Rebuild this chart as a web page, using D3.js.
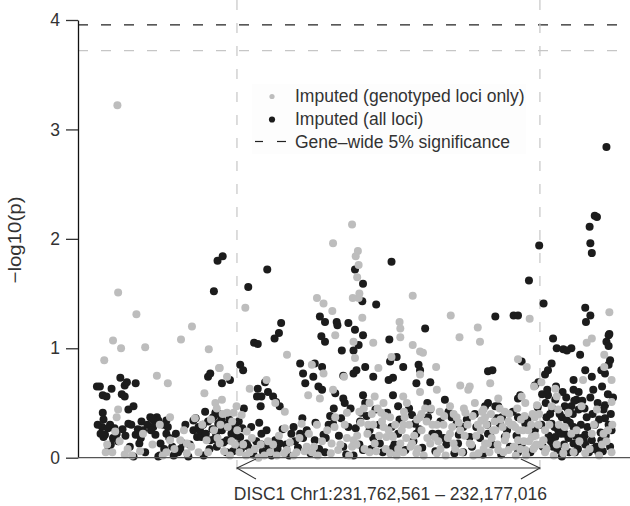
<!DOCTYPE html>
<html>
<head>
<meta charset="utf-8">
<script src="https://cdn.jsdelivr.net/npm/d3@7"></script>
<style>
  html, body { margin: 0; padding: 0; background: #fff; }
  svg { display: block; font-family: "Liberation Sans", Arial, sans-serif; }
</style>
</head>
<body>
<svg id="chart" width="630" height="506"></svg>
<script>
// ---- DATA ----
// positions are kb offsets from chr1:231,500,000; values are -log10(p)
const xDomainKb = [45.1, 797.5];
const yTicks = [0, 1, 2, 3, 4];
const geneStartKb = 262.561;   // 231,762,561
const geneEndKb = 677.016;     // 232,177,016
const geneLabel = "DISC1 Chr1:231,762,561 \u2013 232,177,016";
const sigThresholdAll = 3.955;
const sigThresholdGenotyped = 3.72;
const legendLabels = ["Imputed (genotyped loci only)", "Imputed (all loci)", "Gene\u2013wide 5% significance"];
const yLabel = "\u2212log10(p)";

// Imputed (all loci) — black
const imputedAll = [
  [768,2.84],[231,1.52],[236,1.80],[243,1.84],[278,1.56],[304,1.72],[424,1.72],[435,1.59],[434,1.43],[453,1.40],
  [474,1.79],[376,1.29],[383,1.24],[378,1.11],[383,1.06],[399,1.24],[400,1.21],[415,1.23],[520,1.18],[616,1.29],
  [641,1.30],[647,1.30],[662,1.62],[676,1.94],[682,1.41],[695,1.09],[745,2.11],[746,1.96],[748,1.87],[755,2.20],
  [752,2.21],[739,1.37],[746,1.30],[740,1.24],[772,1.13],[323,1.23],[320,1.14],[314,1.09],[286,1.05],[291,1.04],
  [349,0.86],[353,0.77],[356,0.68],[369,0.86],[379,0.83],[367,0.74],[374,0.65],[379,0.62],[406,0.98],[408,0.75],
  [267,0.85],[271,0.80],[242,0.68],[253,0.71],[291,0.63],[290,0.56],[296,0.56],[301,0.69],[305,0.60],[312,0.56],
  [295,0.47],[316,0.51],[321,0.47],[397,0.59],[408,0.54],[410,0.50],[233,0.41],[237,0.31],[242,0.25],[251,0.28],
  [258,0.25],[249,0.16],[267,0.19],[276,0.13],[264,0.12],[235,0.10],[296,0.22],[296,0.12],[315,0.16],[321,0.13],
  [337,0.22],[349,0.22],[353,0.18],[342,0.15],[369,0.16],[381,0.21],[388,0.30],[394,0.31],[415,0.28],[408,0.10],
  [383,0.05],[424,1.17],[435,1.12],[422,0.98],[429,1.03],[471,1.08],[481,0.92],[472,0.88],[490,0.83],[438,0.83],
  [422,0.77],[426,0.80],[449,0.74],[476,0.73],[470,0.71],[511,0.85],[513,0.80],[508,0.68],[527,0.69],[547,0.53],
  [606,0.79],[435,0.57],[438,0.50],[433,0.41],[431,0.33],[476,0.57],[483,0.47],[527,0.44],[524,0.37],[502,0.39],
  [556,0.37],[563,0.31],[572,0.28],[602,0.47],[444,0.25],[449,0.18],[458,0.13],[474,0.28],[483,0.22],[506,0.31],
  [508,0.22],[538,0.22],[545,0.18],[435,0.07],[422,0.02],[476,0.09],[565,0.13],[572,0.05],[590,0.28],[581,0.19],
  [609,0.22],[700,1.00],[709,0.99],[720,1.00],[714,0.98],[732,0.94],[771,1.12],[768,1.06],[771,1.02],[773,0.89],
  [771,0.85],[766,0.77],[761,0.80],[693,0.86],[688,0.80],[684,0.76],[675,0.69],[670,0.66],[652,0.88],[612,0.80],
  [739,0.80],[748,0.74],[723,0.71],[750,0.62],[723,0.62],[727,0.53],[688,0.57],[698,0.53],[650,0.57],[647,0.54],
  [606,0.50],[616,0.47],[620,0.47],[711,0.47],[720,0.47],[730,0.44],[766,0.48],[764,0.44],[707,0.37],[714,0.34],
  [741,0.37],[625,0.37],[622,0.31],[647,0.37],[657,0.31],[766,0.36],[771,0.30],[686,0.37],[693,0.31],[702,0.25],
  [711,0.22],[723,0.28],[606,0.22],[629,0.19],[739,0.21],[748,0.16],[761,0.16],[757,0.05],[698,0.19],[695,0.10],
  [723,0.13],[725,0.05],[707,0.01],[670,0.25],[647,0.05],[739,0.12],[71,0.65],[75,0.65],[91,0.63],[79,0.57],
  [84,0.56],[103,0.73],[109,0.66],[112,0.69],[124,0.68],[105,0.58],[109,0.56],[79,0.41],[114,0.44],[121,0.47],
  [78,0.28],[89,0.30],[82,0.21],[93,0.18],[98,0.22],[114,0.31],[132,0.33],[134,0.25],[124,0.21],[129,0.13],
  [144,0.37],[153,0.37],[149,0.34],[148,0.28],[166,0.22],[170,0.18],[166,0.34],[121,0.01],[137,0.05],[157,0.02],
  [182,0.05],[189,0.13],[203,0.25],[208,0.19],[223,0.74],[226,0.77],[223,0.33],[230,0.37],[219,0.42],[214,0.19],
  [226,0.16],[80,0.19],[87,0.09],[155,0.01],[176,0.02],[196,0.01],[217,0.02],[146,0.36],[155,0.34],[162,0.30],
  [203,0.34],[212,0.25],
  [72,0.30],[76,0.22],[80,0.35],[86,0.27],[90,0.12],[95,0.27],[100,0.15],[106,0.26],[110,0.20],[116,0.10],
  [118,0.30],[127,0.26],[131,0.18],[140,0.30],[145,0.25],[151,0.21],[158,0.13],[163,0.08],[168,0.28],[174,0.10],
  [179,0.22],[185,0.08],[192,0.30],[198,0.12],[206,0.36],[210,0.28],[216,0.30],[220,0.22],[225,0.08],[229,0.26],
  [232,0.17],[234,0.22],[238,0.40],[241,0.35],[244,0.14],[246,0.30],[248,0.05],[252,0.35],[255,0.22],[257,0.06],
  [260,0.30],[262,0.20],[265,0.33],[268,0.08],[270,0.27],[272,0.45],[278,0.10],[282,0.28],[285,0.03],[289,0.15],
  [293,0.32],[298,0.06],[303,0.25],[306,0.10],[310,0.02],[318,0.08],[325,0.26],[330,0.12],[334,0.02],[340,0.28],
  [346,0.09],[352,0.36],[358,0.25],[363,0.04],[370,0.32],[375,0.08],[384,0.18],[390,0.38],[395,0.45],[402,0.20],
  [405,0.36],[412,0.03],[418,0.45],[425,0.27],[430,0.12],[440,0.38],[446,0.08],[452,0.44],[457,0.30],[462,0.05],
  [468,0.41],[478,0.12],[485,0.35],[493,0.07],[498,0.45],[504,0.15],[512,0.26],[516,0.09],[523,0.50],[530,0.22],
  [534,0.06],[541,0.33],[549,0.12],[552,0.42],[560,0.04],[566,0.21],[577,0.35],[584,0.10],[588,0.40],[595,0.18],
  [599,0.03],[605,0.30],[612,0.12],[618,0.36],[624,0.03],[632,0.25],[636,0.10],[640,0.42],[645,0.20],[652,0.12],
  [660,0.35],[664,0.05],[668,0.20],[674,0.46],[679,0.30],[681,0.10],[685,0.50],[689,0.20],[691,0.40],[697,0.28],
  [701,0.07],[704,0.40],[706,0.22],[710,0.12],[713,0.55],[716,0.18],[718,0.32],[722,0.40],[726,0.20],[729,0.08],
  [733,0.30],[735,0.52],[737,0.16],[742,0.28],[744,0.05],[749,0.40],[752,0.30],[754,0.10],[758,0.35],[760,0.23],
  [763,0.06],[767,0.20],[770,0.58],[773,0.10],[774,0.40],
  [680,0.58],[687,0.62],[694,0.45],[699,0.65],[708,0.60],[715,0.45],[724,0.52],[730,0.60],[738,0.45],[746,0.55],
  [756,0.50],[762,0.65],[775,0.25],[777,0.55],[692,0.15],[717,0.05],[734,0.18],[750,0.08]
];

// Imputed (genotyped loci only) — grey
const imputedGenotyped = [
  [99,3.22],[100,1.51],[125,1.31],[201,1.20],[93,1.07],[104,1.00],[137,1.01],[186,1.08],[224,0.99],[81,0.89],
  [153,0.75],[168,0.68],[218,0.59],[274,1.37],[394,1.96],[420,2.13],[428,1.89],[425,1.84],[429,1.76],[427,1.65],
  [429,1.46],[421,1.46],[430,1.50],[503,1.48],[393,1.34],[434,1.28],[485,1.24],[486,1.18],[486,1.10],[555,1.30],
  [592,1.19],[567,1.10],[595,1.06],[663,1.27],[772,1.33],[748,1.09],[741,1.05],[372,1.46],[381,1.41],[397,1.12],
  [331,0.94],[365,0.85],[381,0.77],[409,0.74],[303,0.71],[239,0.82],[249,0.74],[280,0.63],[360,0.57],[376,0.54],
  [315,0.50],[328,0.42],[394,0.62],[242,0.53],[262,0.47],[258,0.41],[269,0.39],[249,0.41],[233,0.50],[397,0.37],
  [413,0.41],[351,0.31],[372,0.30],[328,0.27],[239,0.13],[255,0.15],[276,0.24],[280,0.05],[292,0.00],[305,0.15],
  [308,0.05],[317,0.02],[331,0.07],[344,0.05],[358,0.10],[365,0.05],[392,0.13],[401,0.07],[413,0.18],[420,0.10],
  [238,0.82],[100,0.44],[98,0.37],[96,0.24],[83,0.05],[109,0.03],[134,0.22],[157,0.30],[171,0.37],[171,0.16],
  [185,0.16],[194,0.13],[194,0.04],[166,0.05],[205,0.36],[210,0.05],[221,0.16],[223,0.05],[235,0.45],[449,1.05],
  [503,1.03],[513,0.97],[517,0.96],[535,0.83],[474,0.92],[456,0.82],[422,1.06],[424,0.91],[513,0.76],[568,0.66],
  [581,0.65],[579,0.62],[536,0.62],[451,0.56],[444,0.50],[463,0.50],[490,0.56],[495,0.50],[513,0.60],[520,0.45],
  [554,0.47],[588,0.50],[600,0.44],[460,0.41],[472,0.37],[492,0.37],[490,0.30],[513,0.37],[536,0.30],[533,0.19],
  [563,0.37],[575,0.41],[597,0.34],[449,0.30],[463,0.28],[467,0.19],[422,0.16],[426,0.12],[444,0.05],[451,0.13],
  [476,0.19],[486,0.13],[490,0.05],[502,0.13],[508,0.04],[527,0.13],[536,0.04],[554,0.22],[559,0.13],[581,0.13],
  [593,0.04],[602,0.13],[472,0.04],[481,0.02],[647,0.90],[659,0.83],[765,0.94],[765,0.83],[736,0.71],[775,0.71],
  [609,0.68],[669,0.65],[679,0.69],[698,0.63],[700,0.56],[620,0.54],[652,0.56],[657,0.50],[673,0.48],[693,0.47],
  [702,0.44],[734,0.47],[775,0.51],[629,0.42],[634,0.33],[670,0.37],[602,0.37],[716,0.41],[755,0.44],[613,0.25],
  [629,0.16],[643,0.28],[654,0.25],[666,0.19],[670,0.10],[647,0.16],[657,0.07],[634,0.07],[620,0.07],[684,0.25],
  [682,0.16],[711,0.28],[727,0.25],[748,0.22],[764,0.22],[768,0.15],[775,0.05],[723,0.05],[739,0.04],[700,0.12],
  [709,0.04],[684,0.05],[606,0.13],
  [85,0.12],[92,0.05],[102,0.15],[113,0.08],[119,0.02],[130,0.06],[147,0.12],[161,0.02],[177,0.08],[190,0.25],
  [200,0.10],[215,0.30],[227,0.35],[231,0.25],[236,0.18],[240,0.30],[243,0.40],[245,0.06],[250,0.28],[253,0.02],
  [256,0.33],[260,0.12],[263,0.25],[266,0.05],[271,0.12],[275,0.02],[283,0.18],[287,0.08],[295,0.12],[300,0.02],
  [312,0.12],[320,0.20],[327,0.04],[335,0.14],[340,0.02],[348,0.18],[355,0.06],[361,0.22],[368,0.10],[373,0.02],
  [379,0.15],[386,0.25],[391,0.04],[396,0.28],[404,0.12],[410,0.30],[416,0.02],[427,0.20],[432,0.32],[437,0.08],
  [441,0.22],[447,0.40],[453,0.06],[457,0.20],[461,0.33],[466,0.08],[470,0.25],[479,0.30],[483,0.08],[488,0.25],
  [494,0.18],[498,0.30],[505,0.20],[510,0.08],[515,0.25],[518,0.02],[523,0.18],[530,0.30],[538,0.15],[541,0.08],
  [545,0.30],[548,0.02],[551,0.18],[557,0.28],[561,0.08],[566,0.32],[570,0.05],[574,0.20],[578,0.30],[583,0.12],
  [586,0.02],[590,0.20],[596,0.25],[600,0.08],[604,0.30],[608,0.05],[611,0.18],[616,0.25],[619,0.12],[623,0.35],
  [627,0.05],[631,0.20],[637,0.30],[641,0.10],[644,0.02],[648,0.25],[651,0.35],[655,0.15],[658,0.02],[661,0.25],
  [665,0.30],[668,0.08],[671,0.20],[675,0.30],[678,0.12],[686,0.08],[690,0.30],[696,0.02],[703,0.30],[712,0.10],
  [720,0.22],[731,0.15],[745,0.08],[751,0.30],[758,0.02],[762,0.12],[770,0.25],[776,0.30],
  [515,0.40],[522,0.33],[528,0.45],[540,0.42],[546,0.38],[559,0.40],[568,0.25],[573,0.45],[585,0.38],[592,0.30],
  [598,0.42],[610,0.40],[615,0.33],[622,0.45],[626,0.28],[635,0.40],[640,0.30],[646,0.45],[650,0.08],[656,0.38],
  [662,0.15],[667,0.40],[672,0.12],[676,0.40],[430,0.42],[436,0.45],[442,0.30],[455,0.45],[465,0.38],[475,0.20],
  [491,0.42],[500,0.10],[509,0.35]
];

// ---- CHART ----
const W = 630, H = 506;
const svg = d3.select("#chart");
const x = d3.scaleLinear().domain(xDomainKb).range([78, 628]);
const y = d3.scaleLinear().domain([0, 4]).range([457.7, 20]);

const greyLine = "#c6c6c6";
// significance lines
svg.append("line")
  .attr("x1", x.range()[0]).attr("x2", W)
  .attr("y1", y(sigThresholdGenotyped)).attr("y2", y(sigThresholdGenotyped))
  .attr("stroke", greyLine).attr("stroke-width", 1.2).attr("stroke-dasharray", "10,13");
svg.append("line")
  .attr("x1", x.range()[0]).attr("x2", W)
  .attr("y1", y(sigThresholdAll)).attr("y2", y(sigThresholdAll))
  .attr("stroke", "#222").attr("stroke-width", 1.2).attr("stroke-dasharray", "10,13");

// gene boundaries
[geneStartKb, geneEndKb].forEach(g => {
  svg.append("line")
    .attr("x1", x(g)).attr("x2", x(g))
    .attr("y1", 0).attr("y2", 477)
    .attr("stroke", greyLine).attr("stroke-width", 1.2).attr("stroke-dasharray", "10,13");
});

// legend backdrop
svg.append("rect").attr("x", 252).attr("y", 84).attr("width", 274).attr("height", 70).attr("fill", "#fdfdfd");

// points
const R = 4;
svg.append("g").selectAll("circle").data(imputedAll).join("circle")
  .attr("cx", d => x(d[0])).attr("cy", d => y(d[1])).attr("r", R).attr("fill", "#1c1c1c");
svg.append("g").selectAll("circle").data(imputedGenotyped).join("circle")
  .attr("cx", d => x(d[0])).attr("cy", d => y(d[1])).attr("r", R).attr("fill", "#bdbdbd");

// y axis
const yAxis = d3.axisLeft(y).tickValues(yTicks).tickFormat(d3.format("d")).tickSize(12).tickSizeOuter(0).tickPadding(6);
const gy = svg.append("g").attr("transform", `translate(${x.range()[0]},0)`).call(yAxis);
gy.select(".domain").attr("stroke", "#111").attr("stroke-width", 1.3);
gy.selectAll(".tick line").attr("stroke", "#333").attr("stroke-width", 1.3);
gy.selectAll(".tick text").attr("font-size", 17.5).attr("fill", "#333").attr("font-family", "Liberation Sans, Arial, sans-serif");

// x baseline
svg.append("line").attr("x1", x.range()[0]).attr("x2", W).attr("y1", y(0)).attr("y2", y(0))
  .attr("stroke", "#555").attr("stroke-width", 1.3);

// gene arrow
const ay = 468;
const ag = svg.append("g").attr("stroke", "#333").attr("stroke-width", 1.1).attr("fill", "none");
ag.append("line").attr("x1", x(geneStartKb)).attr("x2", x(geneEndKb)).attr("y1", ay).attr("y2", ay);
ag.append("path").attr("d", `M${x(geneStartKb)+19},${ay-9} L${x(geneStartKb)},${ay} L${x(geneStartKb)+19},${ay+11}`);
ag.append("path").attr("d", `M${x(geneEndKb)-19},${ay-9} L${x(geneEndKb)},${ay} L${x(geneEndKb)-19},${ay+11}`);

svg.append("text").attr("x", (x(geneStartKb) + x(geneEndKb)) / 2 + 2).attr("y", 500)
  .attr("text-anchor", "middle").attr("font-size", 17.5).attr("fill", "#333").text(geneLabel);

// y label
svg.append("text").attr("transform", "translate(21,240) rotate(-90)")
  .attr("text-anchor", "middle").attr("font-size", 18).attr("fill", "#333")
  .attr("textLength", 87).attr("lengthAdjust", "spacingAndGlyphs").text(yLabel);

// legend
const lg = svg.append("g");
lg.append("circle").attr("cx", 272).attr("cy", 96.5).attr("r", 2.6).attr("fill", "#bdbdbd");
lg.append("circle").attr("cx", 272).attr("cy", 119.5).attr("r", 3.1).attr("fill", "#1c1c1c");
lg.append("line").attr("x1", 255).attr("x2", 263).attr("y1", 141.5).attr("y2", 141.5).attr("stroke", "#222").attr("stroke-width", 1.2);
lg.append("line").attr("x1", 277).attr("x2", 286).attr("y1", 141.5).attr("y2", 141.5).attr("stroke", "#222").attr("stroke-width", 1.2);
[102, 124.5, 147.5].forEach((yy, i) => {
  lg.append("text").attr("x", 295).attr("y", yy).attr("font-size", 17.5).attr("fill", "#333").text(legendLabels[i]);
});
</script>
</body>
</html>
